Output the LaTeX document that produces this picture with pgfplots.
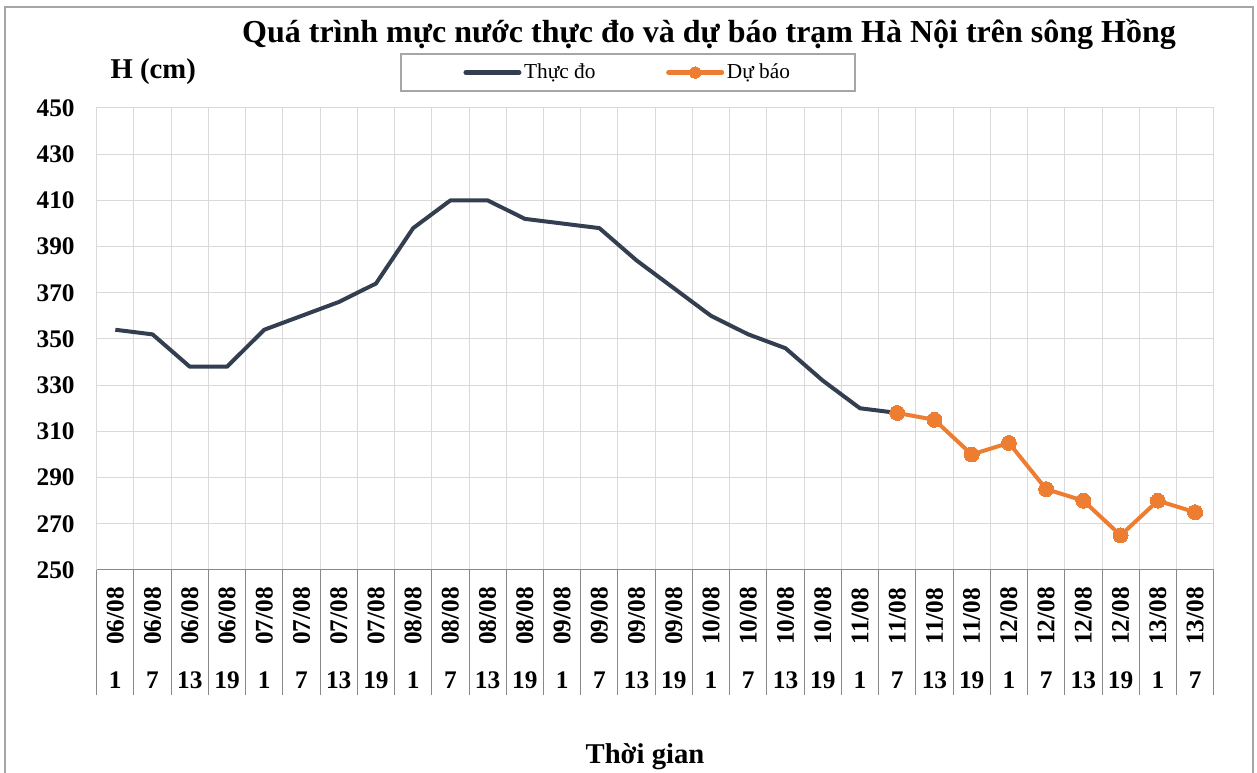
\documentclass[border=0pt]{standalone}
\usepackage{pgfplots}
\pgfplotsset{compat=1.18}
\usepackage{fontspec}
\setmainfont{Liberation Serif}
\definecolor{obs}{HTML}{333F50}
\definecolor{fc}{HTML}{ED7D31}
\definecolor{gridc}{HTML}{D9D9D9}
\definecolor{axc}{HTML}{898989}
\definecolor{framec}{HTML}{A6A6A6}
\newcommand\R[1]{\rotatebox{90}{#1}}
\begin{document}
\begin{tikzpicture}[x=0.75pt,y=0.75pt]
\useasboundingbox (0,0) rectangle (1257,773);
\draw[framec, line width=1.5pt] (5,766) rectangle (1253,-20);
\begin{axis}[
  at={(72.525pt,152.25pt)}, anchor=south west, scale only axis,
  width=837.75pt, height=346.5pt,
  xmin=-0.5, xmax=29.5, ymin=250, ymax=450,
  ytick={250,270,...,450},
  xtick={0,...,29},
  xticklabels={\R{06/08},\R{06/08},\R{06/08},\R{06/08},\R{07/08},\R{07/08},\R{07/08},\R{07/08},\R{08/08},\R{08/08},\R{08/08},\R{08/08},\R{09/08},\R{09/08},\R{09/08},\R{09/08},\R{10/08},\R{10/08},\R{10/08},\R{10/08},\R{11/08},\R{11/08},\R{11/08},\R{11/08},\R{12/08},\R{12/08},\R{12/08},\R{12/08},\R{13/08},\R{13/08}},
  minor xtick={-0.5,0.5,...,29.5},
  xminorgrids, ymajorgrids,
  grid style={gridc, line width=0.75pt},
  minor grid style={gridc, line width=0.75pt},
  axis line style={gridc, line width=0.75pt},
  xtick pos=bottom, ytick pos=left,
  tick align=outside,
  major tick length=0pt,
  minor tick length=93.75pt,
  minor tick style={axc, line width=0.75pt},
  ytick style={draw=none},
  ticklabel style={font=\bfseries\fontsize{19}{19}\selectfont},
  /pgf/number format/assume math mode=true,
  yticklabel style={xshift=-13pt},
  xticklabel style={anchor=center, yshift=-34.5pt},
  extra x ticks={0,...,29},
  extra x tick labels={1,7,13,19,1,7,13,19,1,7,13,19,1,7,13,19,1,7,13,19,1,7,13,19,1,7,13,19,1,7},
  extra x tick style={grid=none, major tick length=0pt, xticklabel style={yshift=-48pt}},
  legend style={at={(0.4757,1.0768)}, anchor=center, legend columns=2,
    draw=framec, line width=1.5pt, font=\fontsize{16}{16}\selectfont,
    inner xsep=47pt, inner ysep=5.5pt,
    /tikz/every even column/.append style={column sep=51pt}},
  legend image code/.code={\draw[mark repeat=2,mark phase=2,#1] plot coordinates {(0pt,0pt) (20pt,0pt) (40pt,0pt)};},
]
\addplot[obs, line width=3pt, line join=round, legend image post style={line width=3.5pt, line cap=round}] coordinates {
(0,354) (1,352) (2,338) (3,338) (4,354) (5,360) (6,366) (7,374) (8,398) (9,410) (10,410) (11,402) (12,400) (13,398) (14,384) (15,372) (16,360) (17,352) (18,346) (19,332) (20,320) (21,318)};
\addlegendentry{Thực đo}
\addplot[fc, line width=3pt, line join=round, mark=*, mark size=5.6pt, mark options={fc, line width=0pt}, legend image post style={mark size=4.3pt, line width=3.5pt, line cap=round}] coordinates {
(21,318) (22,315) (23,300) (24,305) (25,285) (26,280) (27,265) (28,280) (29,275)};
\addlegendentry{Dự báo}
\draw[axc, line width=0.75pt] (rel axis cs:0,0) -- (rel axis cs:1,0);
\end{axis}
\node[font=\bfseries\fontsize{24}{24}\selectfont] at (709,739) {Quá trình mực nước thực đo và dự báo trạm Hà Nội trên sông Hồng};
\node[font=\bfseries\fontsize{21.5}{21.5}\selectfont, anchor=west] at (106,701) {H (cm)};
\node[font=\bfseries\fontsize{21.5}{21.5}\selectfont] at (645,16) {Thời gian};
\end{tikzpicture}
\end{document}
